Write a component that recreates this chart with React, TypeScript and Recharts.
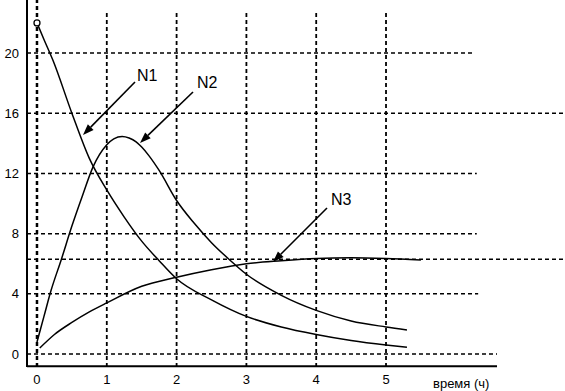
import React from "react";
import { LineChart, Line, XAxis, YAxis, ReferenceLine } from "recharts";

// время (ч) and values
const n1Time = [0, 0.1, 0.23, 0.5, 0.75, 1, 1.25, 1.5, 1.75, 2, 2.5, 3, 3.5, 4, 4.5, 5, 5.3];
const n1Values = [22, 20.9, 19.5, 16, 13.0, 10.9, 9.1, 7.5, 6.2, 5.0, 3.6, 2.5, 1.8, 1.3, 0.9, 0.6, 0.45];

const n2Time = [0, 0.1, 0.2, 0.35, 0.5, 0.65, 0.8, 1, 1.1, 1.22, 1.32, 1.42, 1.5, 1.6, 1.75, 2, 2.25, 2.5, 2.75, 3, 3.5, 4, 4.5, 5, 5.3];
const n2Values = [0.8, 2.5, 4.2, 6.3, 8.5, 10.5, 12.4, 13.9, 14.3, 14.45, 14.35, 14.1, 13.75, 13.2, 12.2, 10.2, 8.7, 7.4, 6.3, 5.3, 3.9, 2.9, 2.2, 1.8, 1.6];

const n3Time = [0.04, 0.25, 0.5, 0.75, 1, 1.5, 2, 2.5, 3, 3.5, 4, 4.5, 5, 5.5];
const n3Values = [0.4, 1.3, 2.1, 2.8, 3.4, 4.5, 5.1, 5.6, 6.0, 6.2, 6.35, 6.4, 6.35, 6.25];

const xTicks = [0, 1, 2, 3, 4, 5];
const yTicks = [0, 4, 8, 12, 16, 20];

const X_MIN = -0.143;
const X_MAX = 7.564;
const Y_MIN = -0.86;
const Y_MAX = 23.52;

// horizontal grid lines: value and where each one stops on the right
const hGrid = [
  { y: 0, end: 6.59 },
  { y: 4, end: 6.32 },
  { y: 6.3, end: X_MAX },
  { y: 8, end: 6.3 },
  { y: 12, end: 6.3 },
  { y: 16, end: X_MAX },
  { y: 20, end: 6.27 },
];
const vGrid = [
  { x: 0, top: Y_MAX },
  { x: 1, top: 22.7 },
  { x: 2, top: 22.7 },
  { x: 3, top: 22.7 },
  { x: 4, top: 22.7 },
  { x: 5, top: 22.65 },
];

const toRows = (t: number[], v: number[]) => t.map((x, i) => ({ t: x, v: v[i] }));

const font = "'Liberation Sans', Arial, sans-serif";

function Arrow({ x1, y1, x2, y2 }: { x1: number; y1: number; x2: number; y2: number }) {
  const ang = Math.atan2(y2 - y1, x2 - x1);
  const len = 11;
  const w = 4;
  const bx = x2 - len * Math.cos(ang);
  const by = y2 - len * Math.sin(ang);
  const px = -Math.sin(ang) * w;
  const py = Math.cos(ang) * w;
  return (
    <g>
      <line x1={x1} y1={y1} x2={bx} y2={by} stroke="#000" strokeWidth={1.6} />
      <polygon points={`${x2},${y2} ${bx + px},${by + py} ${bx - px},${by - py}`} fill="#000" />
    </g>
  );
}

export default function App() {
  const dash = "4 3";
  return (
    <div style={{ position: "absolute", left: 0, top: 0, width: 565, height: 391, background: "#fff" }}>
      <LineChart width={565} height={391} margin={{ top: 0, right: 0, bottom: 0, left: 0 }}>
        <XAxis
          type="number"
          dataKey="t"
          domain={[X_MIN, X_MAX]}
          ticks={xTicks}
          allowDataOverflow
          axisLine={false}
          tickLine={false}
          height={24}
          tick={{ fill: "#000", fontSize: 13, fontFamily: font }}
        />
        <YAxis
          type="number"
          dataKey="v"
          domain={[Y_MIN, Y_MAX]}
          ticks={yTicks}
          allowDataOverflow
          width={27}
          axisLine={{ stroke: "#000", strokeWidth: 2 }}
          tickLine={false}
          tick={{ fill: "#000", fontSize: 13, fontFamily: font }}
        />
        {hGrid.map((g) => (
          <ReferenceLine
            key={"h" + g.y}
            segment={[{ x: X_MIN, y: g.y }, { x: g.end, y: g.y }]}
            stroke="#000"
            strokeWidth={1.5}
            strokeDasharray={dash}
          />
        ))}
        {vGrid.map((g) => (
          <ReferenceLine
            key={"v" + g.x}
            segment={[{ x: g.x, y: Y_MIN }, { x: g.x, y: g.top }]}
            stroke="#000"
            strokeWidth={g.x === 0 ? 2.5 : 1.8}
            strokeDasharray={dash}
          />
        ))}
        <ReferenceLine
          segment={[{ x: X_MIN, y: Y_MIN + 0.05 }, { x: 6.59, y: Y_MIN + 0.05 }]}
          stroke="#000"
          strokeWidth={2}
        />
        <Line
          data={toRows(n1Time, n1Values)}
          dataKey="v"
          type="monotone"
          stroke="#000"
          strokeWidth={1.5}
          isAnimationActive={false}
          dot={(p: any) =>
            p.index === 0 ? (
              <circle key="d0" cx={p.cx} cy={p.cy} r={3} fill="#fff" stroke="#000" strokeWidth={1.3} />
            ) : (
              <g key={"d" + p.index} />
            )
          }
        />
        <Line
          data={toRows(n2Time, n2Values)}
          dataKey="v"
          type="monotone"
          stroke="#000"
          strokeWidth={1.5}
          dot={false}
          isAnimationActive={false}
        />
        <Line
          data={toRows(n3Time, n3Values)}
          dataKey="v"
          type="monotone"
          stroke="#000"
          strokeWidth={1.5}
          dot={false}
          isAnimationActive={false}
        />
      </LineChart>
      <svg width={565} height={391} style={{ position: "absolute", left: 0, top: 0, pointerEvents: "none" }}>
        <Arrow x1={135} y1={82} x2={83} y2={135} />
        <Arrow x1={193} y1={92} x2={140} y2={143} />
        <Arrow x1={327} y1={208} x2={273} y2={262} />
        <g fontFamily={font} fontSize={16} fill="#000">
          <text x={137} y={81}>N1</text>
          <text x={197} y={88}>N2</text>
          <text x={331} y={205}>N3</text>
        </g>
        <text x={433} y={388} fontFamily={font} fontSize={13} fill="#000">время (ч)</text>
      </svg>
    </div>
  );
}
